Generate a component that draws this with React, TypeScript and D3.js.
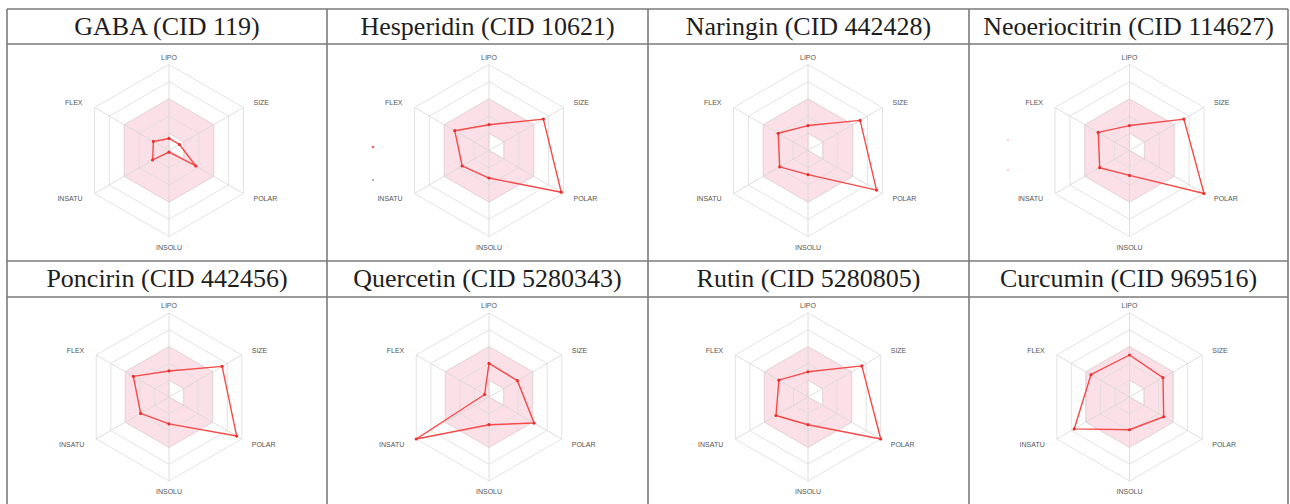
import React from 'react'
import * as d3 from 'd3'

// radar axes, clockwise from the top
const axes = ['LIPO', 'SIZE', 'POLAR', 'INSOLU', 'INSATU', 'FLEX']

// compounds, in table order (row by row)
const compounds = [
  'GABA (CID 119)',
  'Hesperidin (CID 10621)',
  'Naringin (CID 442428)',
  'Neoeriocitrin (CID 114627)',
  'Poncirin (CID 442456)',
  'Quercetin (CID 5280343)',
  'Rutin (CID 5280805)',
  'Curcumin (CID 969516)'
]

// values read off the radars, 0 = centre, 1 = outer hexagon
// order: LIPO, SIZE, POLAR, INSOLU, INSATU, FLEX
const gaba = [0.14, 0.14, 0.36, 0.02, 0.22, 0.21]
const hesperidin = [0.3, 0.73, 0.97, 0.32, 0.36, 0.46]
const naringin = [0.29, 0.7, 0.92, 0.28, 0.38, 0.4]
const neoeriocitrin = [0.29, 0.73, 1.0, 0.29, 0.4, 0.42]
const poncirin = [0.31, 0.73, 0.93, 0.32, 0.39, 0.49]
const quercetin = [0.4, 0.39, 0.62, 0.33, 1.0, 0.06]
const rutin = [0.3, 0.74, 1.0, 0.33, 0.44, 0.4]
const curcumin = [0.5, 0.46, 0.47, 0.39, 0.76, 0.53]

const series = [gaba, hesperidin, naringin, neoeriocitrin, poncirin, quercetin, rutin, curcumin]

// optimal zone (pink band): outer limit and inner limit per axis
const zoneOuter = [0.6, 0.6, 0.6, 0.6, 0.6, 0.6]
const zoneInner = [0.2, 0.2, 0.2, 0, 0, 0]

const gridLevels = [0.2, 0.4, 0.6, 0.8, 1.0]

// table lines
const colX = [7, 327, 648, 969, 1288]
const rowY = [9, 44, 261, 297]
const W = 1290
const H = 504

// radar placement per row
const rowLayout = [
  { titleTop: 9, cy: 150.5, r: 86 },
  { titleTop: 261, cy: 397, r: 84 }
]
const colCx = [169, 489, 808, 1129.5]

function Radar({ cx, cy, r, values }) {
  const rs = d3.scaleLinear().domain([0, 1]).range([0, r])
  const ang = (i) => (i * 2 * Math.PI) / axes.length
  const poly = d3
    .lineRadial()
    .angle((d, i) => ang(i))
    .radius((d) => rs(d))
    .curve(d3.curveLinearClosed)

  const pt = (i, v) => {
    const a = ang(i)
    return [Math.sin(a) * rs(v), -Math.cos(a) * rs(v)]
  }

  return (
    <g transform={`translate(${cx},${cy})`}>
      <path
        d={poly(zoneOuter) + poly(zoneInner)}
        fill="#fbe1e7"
        fillRule="evenodd"
        stroke="#f6c4d0"
        strokeWidth={0.8}
      />
      {gridLevels.map((l) => (
        <path key={l} d={poly(axes.map(() => l))} fill="none" stroke="#dcdcdc" strokeWidth={0.8} />
      ))}
      {axes.map((a, i) => {
        const [x, y] = pt(i, 1)
        return <line key={a} x1={0} y1={0} x2={x} y2={y} stroke="#d6d6d6" strokeWidth={0.8} />
      })}
      {axes.map((a, i) => {
        const [x, y] = pt(i, 1)
        let tx = x
        let ty = y
        let anchor = 'middle'
        if (i === 0) ty = y - 5
        else if (i === 3) ty = y + 13
        else {
          tx = x > 0 ? x + 10 : x - 12
          ty = y < 0 ? y - 5 + 2.7 : y + 5 + 2.7
          anchor = x > 0 ? 'start' : 'end'
        }
        return (
          <text
            key={a}
            x={tx}
            y={ty}
            textAnchor={anchor}
            fontFamily="Liberation Sans, Arial, sans-serif"
            fontSize={7}
            fill="#555"
          >
            {a}
          </text>
        )
      })}
      <path d={poly(values)} fill="none" stroke="#f54a4a" strokeWidth={1.4} strokeLinejoin="round" />
      {values.map((v, i) => {
        const [x, y] = pt(i, v)
        return <circle key={i} cx={x} cy={y} r={1.6} fill="#e83030" />
      })}
    </g>
  )
}

export default function App() {
  return (
    <div style={{ position: 'absolute', left: 0, top: 0 }}>
      <svg width={W} height={H} style={{ display: 'block', background: '#fff' }}>
        {compounds.map((name, k) => {
          const row = Math.floor(k / 4)
          const col = k % 4
          const lay = rowLayout[row]
          const mid = (colX[col] + colX[col + 1]) / 2
          return (
            <g key={name}>
              <text
                x={mid}
                y={lay.titleTop + 26}
                textAnchor="middle"
                fontFamily="Liberation Serif, Times New Roman, serif"
                fontSize={26}
                fill="#1e1e1e"
              >
                {name}
              </text>
              <Radar cx={colCx[col]} cy={lay.cy} r={lay.r} values={series[k]} />
            </g>
          )
        })}
        {/* stray marks left in the source image */}
        <circle cx={373} cy={147} r={1.3} fill="#f06060" />
        <circle cx={373} cy={180} r={0.8} fill="#555" />
        <circle cx={1008} cy={140} r={0.8} fill="#f3a0a0" />
        <circle cx={1008} cy={170} r={0.8} fill="#f3a0a0" />
        {rowY.map((y) => (
          <line key={'h' + y} x1={colX[0]} x2={colX[4]} y1={y} y2={y} stroke="#7a7a7a" strokeWidth={1.6} />
        ))}
        {colX.map((x) => (
          <line key={'v' + x} x1={x} x2={x} y1={rowY[0]} y2={H} stroke="#7a7a7a" strokeWidth={1.6} />
        ))}
      </svg>
    </div>
  )
}
